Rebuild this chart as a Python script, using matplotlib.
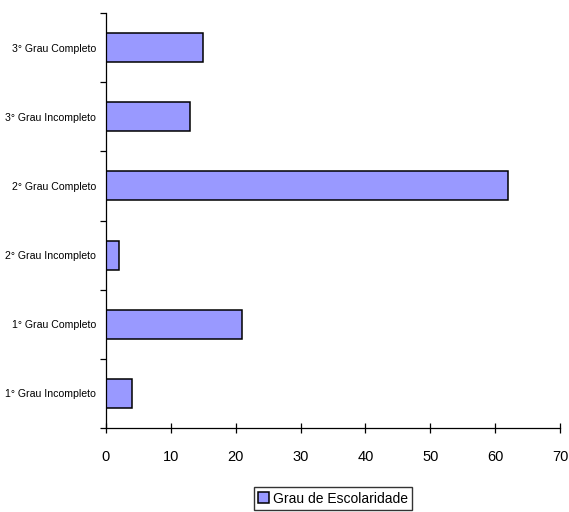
import matplotlib
matplotlib.use("Agg")
import matplotlib.pyplot as plt

plt.rcParams["font.family"] = ["Liberation Sans", "DejaVu Sans"]

categories = ["1° Grau Incompleto", "1° Grau Completo", "2° Grau Incompleto",
              "2° Grau Completo", "3° Grau Incompleto", "3° Grau Completo"]
values = [4, 21, 2, 62, 13, 15]
series_name = "Grau de Escolaridade"
x_ticks = [0, 10, 20, 30, 40, 50, 60, 70]

fig = plt.figure(figsize=(5.69, 5.12), dpi=100)
ax = fig.add_axes([106 / 569, 1 - 428 / 512, (560 - 106) / 569, (428 - 13) / 512])

pos = list(range(len(categories)))
ax.barh(pos, values, height=0.42, color="#9999FF", edgecolor="black",
        linewidth=1.1, label=series_name)

ax.set_xlim(0, 70)
ax.set_ylim(-0.5, len(categories) - 0.5)
ax.set_xticks(x_ticks)
ax.set_xticklabels([str(t) for t in x_ticks], fontsize=10.5)

ax.set_yticks([p - 0.5 for p in pos] + [len(categories) - 0.5])
ax.set_yticklabels([])
ax.set_yticks(pos, minor=True)
ax.set_yticklabels(categories, minor=True, fontsize=7.6)
ax.tick_params(axis="y", which="minor", length=0, pad=7)
ax.tick_params(axis="y", which="major", direction="out", length=4, width=0.9)
ax.tick_params(axis="x", direction="inout", length=7, width=0.9, pad=12)

for s in ("top", "right"):
    ax.spines[s].set_visible(False)
for s in ("left", "bottom"):
    ax.spines[s].set_linewidth(0.9)

ax.legend(loc="upper center", bbox_to_anchor=(0.5, -0.143), frameon=True,
          fancybox=False, edgecolor="black", fontsize=10, handlelength=0.8,
          handleheight=0.8, handletextpad=0.3, borderpad=0.3, borderaxespad=0)

fig.savefig("out.png", dpi=100)
